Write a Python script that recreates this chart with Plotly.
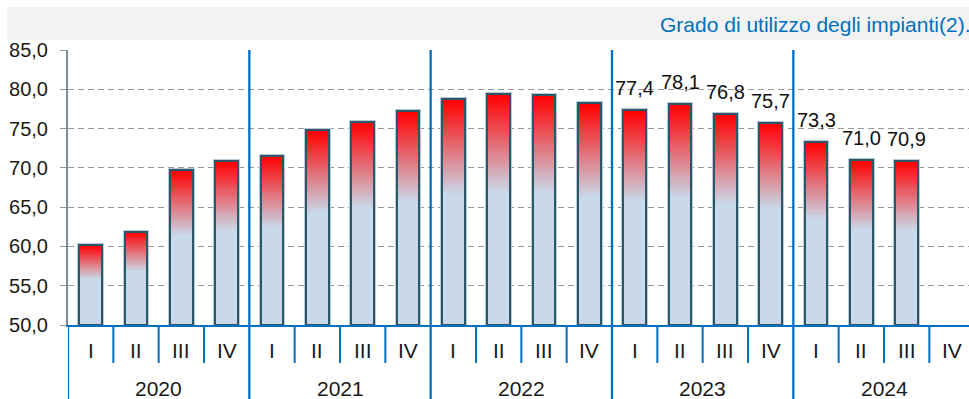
import plotly.graph_objects as go

# ---------------- data ----------------
years = ["2020", "2021", "2022", "2023", "2024"]
quarters = ["I", "II", "III", "IV"]
values = [60.2, 61.9, 69.7, 70.9,
          71.5, 74.8, 75.9, 77.2,
          78.8, 79.4, 79.3, 78.2,
          77.4, 78.1, 76.8, 75.7,
          73.3, 71.0, 70.9, None]
labelled_years = ["2023", "2024"]
title_text = "Grado di utilizzo degli impianti(2)."
y_min, y_max, y_step = 50, 85, 5

# ---------------- helpers ----------------
n_q = len(quarters)
xs = list(range(len(years) * n_q))
heights = [None if v is None else v - y_min for v in values]

BLUE = (201, 217, 234)
RED = (255, 0, 0)
SOLID_FRAC = 0.58
N_SLICES = 45
BAR_W = 0.5
AXIS_BLUE = "#0070c0"

def mix(t):
    c = [round(BLUE[i] + (RED[i] - BLUE[i]) * t) for i in range(3)]
    return "rgb(%d,%d,%d)" % tuple(c)

fig = go.Figure()

# faint halo around bars
fig.add_trace(go.Bar(x=xs, y=heights, base=y_min, width=BAR_W,
                     marker=dict(color="rgba(0,0,0,0)",
                                 line=dict(color="#b9cad6", width=4)),
                     hoverinfo="skip", showlegend=False))

# gradient built from overlaid slices (tallest/reddest first)
for k in range(N_SLICES, -1, -1):
    t = k / N_SLICES
    frac = SOLID_FRAC + (1 - SOLID_FRAC) * t
    hs = [None if h is None else h * frac for h in heights]
    fig.add_trace(go.Bar(x=xs, y=hs, base=y_min, width=BAR_W,
                         marker=dict(color=mix(t), line=dict(width=0)),
                         hoverinfo="skip", showlegend=False))

# outline
fig.add_trace(go.Bar(x=xs, y=heights, base=y_min, width=BAR_W,
                     marker=dict(color="rgba(0,0,0,0)",
                                 line=dict(color="#2b5868", width=2)),
                     hovertemplate="%{y}<extra></extra>", showlegend=False))

# ---------------- layout ----------------
ph = 275.0  # plot height in px (for paper conversions)
def py(px_from_plot_bottom):
    return px_from_plot_bottom / ph

shapes = []
annotations = []

# grey title band
shapes.append(dict(type="rect", xref="paper", yref="paper",
                   x0=-0.0677, x1=1.0, y0=1.0364, y1=1.1564,
                   fillcolor="#f2f2f2", line=dict(width=0), layer="below"))
annotations.append(dict(text=title_text, xref="paper", yref="paper",
                        x=1.003, y=1.091, xanchor="right", yanchor="middle",
                        showarrow=False,
                        font=dict(size=21, color=AXIS_BLUE)))

# separators
for yi, yr in enumerate(years):
    left = yi * n_q - 0.5
    # year divider (through plot and label area)
    shapes.append(dict(type="line", xref="x", yref="paper",
                       x0=left, x1=left, y0=1.0 if yi > 0 else 0, y1=-0.3,
                       line=dict(color=AXIS_BLUE, width=2.3)))
    for qi in range(1, n_q):
        xq = yi * n_q + qi - 0.5
        shapes.append(dict(type="line", xref="x", yref="paper",
                           x0=xq, x1=xq, y0=0, y1=py(-38),
                           line=dict(color=AXIS_BLUE, width=2)))
    for qi, q in enumerate(quarters):
        annotations.append(dict(text=q, xref="x", yref="paper",
                                x=yi * n_q + qi, y=py(-25),
                                xanchor="center", yanchor="middle",
                                showarrow=False, font=dict(size=21, color="#1a1a1a")))
    annotations.append(dict(text=yr, xref="x", yref="paper",
                            x=yi * n_q + (n_q - 1) / 2, y=py(-63),
                            xanchor="center", yanchor="middle",
                            showarrow=False, font=dict(size=21, color="#1a1a1a")))

# data labels
for i, v in enumerate(values):
    if v is None or years[i // n_q] not in labelled_years:
        continue
    annotations.append(dict(text=("%.1f" % v).replace(".", ","),
                            xref="x", yref="y", x=i, y=v,
                            xanchor="center", yanchor="middle", yshift=22,
                            showarrow=False, font=dict(size=20, color="#111111")))

fig.update_layout(
    width=969, height=399,
    margin=dict(l=68, r=0, t=50, b=74),
    paper_bgcolor="white", plot_bgcolor="white",
    font=dict(family="Liberation Sans, Arial, sans-serif", color="#1a1a1a"),
    separators=",.",
    barmode="overlay",
    bargap=0,
    showlegend=False,
    shapes=shapes,
    annotations=annotations,
    xaxis=dict(range=[-0.5, len(xs) - 0.625], showgrid=False, zeroline=False,
               showticklabels=False, ticks="",
               showline=True, linecolor=AXIS_BLUE, linewidth=2, fixedrange=True),
    yaxis=dict(range=[y_min, y_max], dtick=y_step, tick0=y_min, tickformat=".1f",
               showgrid=True, gridcolor="#9a9a9a", gridwidth=1, griddash="6px,4px",
               zeroline=False, showline=True, linecolor="#7f8c98", linewidth=2,
               ticks="outside", ticklen=6, tickcolor="#9a9a9a", tickwidth=1,
               ticklabelstandoff=8,
               tickfont=dict(size=20, color="#1a1a1a"), fixedrange=True),
)

fig.write_html("out.html")
